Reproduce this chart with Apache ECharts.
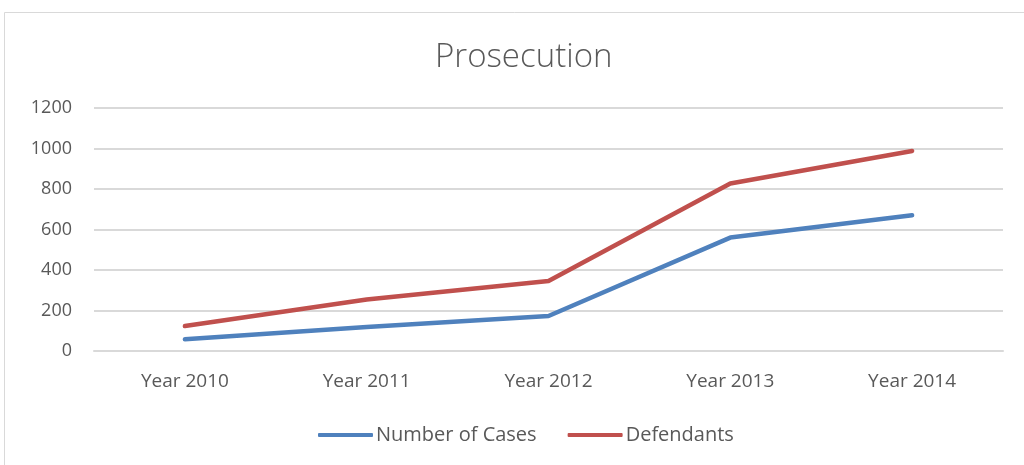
<!DOCTYPE html>
<html><head><meta charset="utf-8">
<script src="https://cdn.jsdelivr.net/npm/echarts@6/dist/echarts.min.js"></script>
<style>html,body{margin:0;padding:0;background:#fff}#c{width:1024px;height:465px}</style>
</head><body><div id="c"></div>
<script>
const categories = ['Year 2010','Year 2011','Year 2012','Year 2013','Year 2014'];
const casesValues = [58, 118, 173, 560, 670];
const defendantsValues = [123, 254, 346, 827, 988];
const yTicks = [0, 200, 400, 600, 800, 1000, 1200];

const chart = echarts.init(document.getElementById('c'));
const font = 'Open Sans';
chart.setOption({
  animation: false,
  backgroundColor: '#fff',
  graphic: [{type:'rect', shape:{x:4.5,y:12.5,width:1040,height:480}, style:{fill:'none', stroke:'#d9d9d9', lineWidth:1}}],
  title: {text:'Prosecution', left:430, top:36, textStyle:{fontFamily:font, fontWeight:300, fontSize:33, color:'#595959'}},
  grid: {left:94, right:21, top:108, bottom:114},
  legend: {bottom:15, left:313, itemGap:31, itemWidth:55, itemHeight:4, icon:'roundRect',
    textStyle:{fontFamily:font, fontSize:20, color:'#595959', padding:[0,0,0,-2]},
    data:['Number of Cases','Defendants']},
  xAxis: {type:'category', data:categories, boundaryGap:true,
    axisLine:{lineStyle:{color:'#d9d9d9', width:2}}, axisTick:{show:false},
    axisLabel:{fontFamily:font, fontSize:19, color:'#595959', margin:21}},
  yAxis: {type:'value', min:yTicks[0], max:yTicks[yTicks.length-1], interval:200,
    axisLine:{show:false}, axisTick:{show:false},
    splitLine:{lineStyle:{color:'#d9d9d9', width:2}},
    axisLabel:{fontFamily:font, fontSize:18, color:'#595959', margin:22, formatter:v=>String(v)}},
  series: [
    {name:'Number of Cases', type:'line', data:casesValues, symbol:'none', color:'#4F81BD',
      lineStyle:{width:4.5, color:'#4F81BD', cap:'round', join:'round'}},
    {name:'Defendants', type:'line', data:defendantsValues, symbol:'none', color:'#C0504D',
      lineStyle:{width:4.5, color:'#C0504D', cap:'round', join:'round'}}
  ]
});
</script></body></html>
